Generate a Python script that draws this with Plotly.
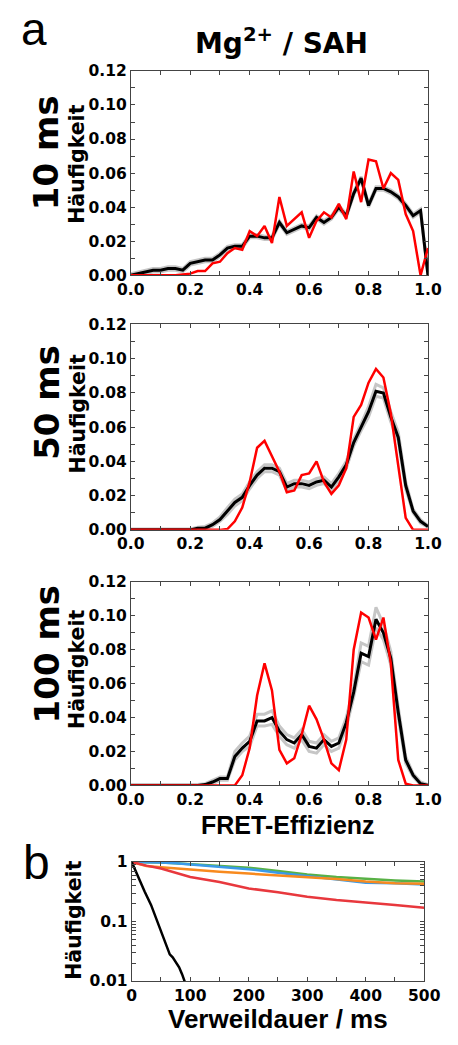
import plotly.graph_objects as go

# FRET efficiency bin centres (0.025 steps)
fret = [round(i * 0.025, 3) for i in range(41)]

# 10 ms: mean histogram, its spread and the red reference histogram
mean_10 = [0, .001, .002, .003, .003, .004, .004, .003, .007, .008, .009, .009, .012, .016, .017, .017,
           .023, .023, .022, .022, .031, .025, .027, .029, .028, .034, .031, .034, .040, .035, .048,
           .057, .041, .051, .051, .049, .046, .041, .035, .038, 0]
hi_10 = [.001, .002, .003, .004, .004, .005, .005, .004, .008, .009, .010, .010, .013, .017, .018, .018,
         .024, .024, .023, .023, .032, .026, .028, .030, .029, .035, .032, .035, .041, .036, .049,
         .058, .042, .052, .052, .050, .047, .042, .036, .039, .001]
lo_10 = [0, 0, .001, .002, .002, .003, .003, .002, .006, .007, .008, .008, .011, .015, .016, .016,
         .022, .022, .021, .021, .030, .024, .026, .028, .027, .033, .030, .033, .039, .034, .047,
         .056, .040, .050, .050, .048, .045, .040, .034, .037, 0]
red_10 = [0, 0, 0, 0, 0, 0, 0, .0005, .001, .0025, .0025, .007, .008, .013, .016, .015, .026, .023,
          .029, .019, .046, .029, .033, .037, .022, .032, .037, .034, .042, .033, .061, .043, .068,
          .067, .051, .060, .056, .036, .026, 0, .016]

# 50 ms
mean_50 = [0, 0, 0, 0, 0, 0, 0, 0, 0, .001, .001, .003, .006, .011, .016, .019, .026, .032, .036, .036,
           .034, .025, .027, .027, .026, .028, .029, .025, .031, .038, .051, .060, .069, .081, .080,
           .066, .054, .026, .011, .005, .002]
hi_50 = [.0005, .0005, .0005, .0005, .0005, .0005, .0005, .0005, .0005, .0015, .002, .004, .0075, .013,
         .018, .021, .028, .034, .038, .038, .036, .027, .029, .029, .028, .030, .031, .027, .033, .040,
         .053, .062, .072, .085, .083, .069, .057, .028, .012, .006, .0025]
lo_50 = [0, 0, 0, 0, 0, 0, 0, 0, 0, .0005, .0005, .002, .005, .009, .014, .017, .024, .030, .034, .034,
         .032, .023, .025, .025, .024, .026, .027, .023, .029, .036, .049, .058, .066, .078, .077, .063,
         .052, .024, .010, .004, .0015]
red_50 = [0, 0, 0, 0, 0, 0, 0, 0, 0, 0, 0, 0, 0, .0005, .005, .013, .028, .048, .052, .043, .034, .022,
          .023, .032, .033, .040, .028, .021, .026, .036, .066, .073, .086, .094, .089, .068, .036,
          .007, 0, 0, 0]

# 100 ms
mean_100 = [0, 0, 0, 0, 0, 0, 0, 0, 0, 0, .0005, .002, .004, .004, .017, .022, .026, .038, .038, .040,
            .032, .027, .025, .030, .023, .022, .027, .023, .025, .037, .055, .078, .076, .098, .090,
            .075, .043, .015, .006, .001, 0]
hi_100 = [.0005, .0005, .0005, .0005, .0005, .0005, .0005, .0005, .0005, .0005, .001, .003, .005, .005,
          .020, .025, .029, .042, .042, .044, .035, .030, .028, .033, .026, .025, .030, .026, .028,
          .040, .058, .084, .082, .105, .095, .079, .046, .017, .007, .002, .0005]
lo_100 = [0, 0, 0, 0, 0, 0, 0, 0, 0, 0, 0, .001, .003, .003, .015, .020, .023, .035, .035, .036, .029,
          .024, .022, .027, .020, .019, .024, .020, .022, .034, .052, .073, .071, .093, .086, .071,
          .040, .013, .005, .0005, 0]
red_100 = [0, 0, 0, 0, 0, 0, 0, 0, 0, 0, 0, 0, 0, 0, 0, .006, .022, .053, .072, .056, .021, .013, .016,
           .030, .047, .039, .027, .013, .009, .027, .080, .102, .099, .086, .099, .072, .015, .001,
           0, 0, 0]

# dwell-time survival curves (panel b)
t_black = [0, 6, 12, 22, 33, 44, 54, 65, 70, 81, 86, 91]
s_black = [1, .72, .52, .32, .19, .10, .053, .028, .025, .017, .013, .0095]
t_dwell = [0, 25, 50, 75, 100, 150, 200, 250, 300, 350, 400, 450, 500]
s_green = [1, 1.0, .98, .95, .92, .86, .80, .71, .62, .56, .52, .49, .47]
s_blue = [1, 1.0, .98, .95, .91, .84, .76, .66, .58, .50, .45, .44, .42]
s_orange = [1, .86, .82, .78, .75, .69, .64, .60, .56, .52, .47, .44, .43]
s_red = [1, .87, .78, .66, .56, .46, .36, .31, .26, .23, .21, .19, .17]

y_ticks = [round(i * 0.01, 2) for i in range(13)]
y_text = [f"{v:.2f}" if i % 2 == 0 else "" for i, v in enumerate(y_ticks)]
x_ticks = [round(i * 0.1, 1) for i in range(11)]
x_text = [f"{v:.1f}" if i % 2 == 0 else "" for i, v in enumerate(x_ticks)]

W, H = 458, 1045
TICKFONT = dict(family="DejaVu Sans", size=15.5, color="black", weight="bold")
AXCOL = "#444444"


def px_x(p):
    return p / W


def px_y(p):
    return 1 - p / H


fig = go.Figure()

panels = [
    (mean_10, hi_10, lo_10, red_10, (63, 271)),
    (mean_50, hi_50, lo_50, red_50, (321, 530)),
    (mean_100, hi_100, lo_100, red_100, (583, 790)),
]

for k, (m, hi, lo, red, (top, bot)) in enumerate(panels, start=1):
    xa = "x" if k == 1 else f"x{k}"
    ya = "y" if k == 1 else f"y{k}"
    for band in (hi, lo):
        fig.add_trace(go.Scatter(x=fret, y=band, mode="lines", xaxis=xa, yaxis=ya,
                                 line=dict(color="#c6c6c6", width=3), showlegend=False,
                                 hoverinfo="skip"))
    fig.add_trace(go.Scatter(x=fret, y=m, mode="lines", xaxis=xa, yaxis=ya,
                             line=dict(color="black", width=3), showlegend=False))
    fig.add_trace(go.Scatter(x=fret, y=red, mode="lines", xaxis=xa, yaxis=ya,
                             line=dict(color="#ff0000", width=2.5), showlegend=False))
    axkey = "xaxis" if k == 1 else f"xaxis{k}"
    aykey = "yaxis" if k == 1 else f"yaxis{k}"
    fig.layout[axkey] = dict(
        domain=[px_x(125), px_x(443)], anchor=ya, range=[0, 1],
        tickvals=x_ticks, ticktext=x_text, ticks="inside", ticklen=4, tickcolor=AXCOL,
        showline=True, linecolor=AXCOL, linewidth=1, mirror="allticks",
        showgrid=False, zeroline=False, tickfont=TICKFONT)
    fig.layout[aykey] = dict(
        domain=[px_y(bot), px_y(top)], anchor=xa, range=[0, 0.12],
        tickvals=y_ticks, ticktext=y_text, ticks="inside", ticklen=4, tickcolor=AXCOL,
        showline=True, linecolor=AXCOL, linewidth=1, mirror="allticks",
        showgrid=False, zeroline=False, tickfont=TICKFONT)

# panel b
for t, s, col, w in [
    (t_dwell, s_green, "#58b146", 2.5),
    (t_dwell, s_blue, "#3a9ae8", 2.5),
    (t_dwell, s_orange, "#f88a1e", 2.5),
    (t_dwell, s_red, "#e8383d", 2.5),
    (t_black, s_black, "black", 2.5),
]:
    fig.add_trace(go.Scatter(x=t, y=s, mode="lines", xaxis="x4", yaxis="y4",
                             line=dict(color=col, width=w), showlegend=False))

log_vals = [m * 10 ** e for e in (-2, -1) for m in range(1, 10)] + [1]
log_text = ["0.01" if v == 0.01 else "0.1" if abs(v - 0.1) < 1e-9 else "1" if v == 1 else ""
            for v in log_vals]
fig.layout["xaxis4"] = dict(
    domain=[px_x(126), px_x(439)], anchor="y4", range=[0, 500],
    tickvals=list(range(0, 501, 50)),
    ticktext=[str(v) if v % 100 == 0 else "" for v in range(0, 501, 50)],
    ticks="inside", ticklen=4, tickcolor=AXCOL, showline=True, linecolor=AXCOL, linewidth=1,
    mirror="allticks", showgrid=False, zeroline=False, tickfont=TICKFONT)
fig.layout["yaxis4"] = dict(
    domain=[px_y(989), px_y(868)], anchor="x4", type="log", range=[-2, 0],
    tickvals=log_vals, ticktext=log_text,
    ticks="inside", ticklen=4, tickcolor=AXCOL, showline=True, linecolor=AXCOL, linewidth=1,
    mirror="allticks", showgrid=False, zeroline=False, tickfont=TICKFONT)

ann = []


def label(text, x, y, size, family="Liberation Sans", bold=True, angle=0):
    ann.append(dict(text=text, x=px_x(x), y=px_y(y), xref="paper", yref="paper",
                    showarrow=False, textangle=angle, xanchor="center", yanchor="middle",
                    font=dict(family=family, size=size, color="black",
                              weight="bold" if bold else "normal")))


label("a", 21, 20, 46, bold=False)
label("b", 24, 868, 48, bold=False)
label("Mg<sup>2+</sup> / SAH", 286, 33, 28, family="DejaVu Sans")
label("FRET-Effizienz", 293, 830, 25)
label("Verweildauer / ms", 283, 1028, 26)

for txt, yc in [("10 ms", 146), ("50 ms", 400), ("100 ms", 657)]:
    label(txt, 35, yc, 34, family="DejaVu Sans", angle=-90)
for yc in (158, 412, 672):
    label("Häufigkeit", 68, yc, 20.5, family="DejaVu Sans", angle=-90)
label("Häufigkeit", 64, 927, 20.5, family="DejaVu Sans", angle=-90)

fig.update_layout(width=W, height=H, margin=dict(l=0, r=0, t=0, b=0),
                  paper_bgcolor="white", plot_bgcolor="white", annotations=ann)

fig.write_html("out.html")
